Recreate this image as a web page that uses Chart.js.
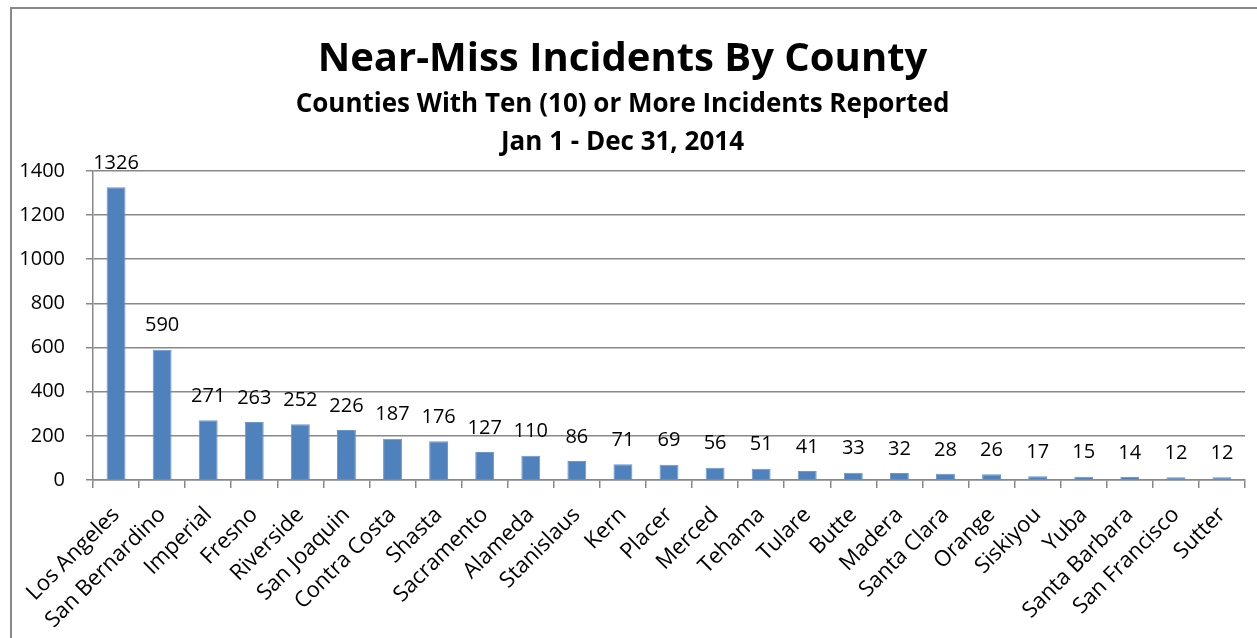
<!DOCTYPE html>
<html>
<head>
<meta charset="utf-8">
<script src="https://cdn.jsdelivr.net/npm/chart.js@4"></script>
<style>
  html,body{margin:0;padding:0;background:#fff;}
  #wrap{position:relative;width:1257px;height:638px;}
</style>
</head>
<body>
<div id="wrap"><canvas id="c"></canvas></div>
<script>
const counties = ['Los Angeles','San Bernardino','Imperial','Fresno','Riverside','San Joaquin','Contra Costa','Shasta','Sacramento','Alameda','Stanislaus','Kern','Placer','Merced','Tehama','Tulare','Butte','Madera','Santa Clara','Orange','Siskiyou','Yuba','Santa Barbara','San Francisco','Sutter'];
const incidents = [1326,590,271,263,252,226,187,176,127,110,86,71,69,56,51,41,33,32,28,26,17,15,14,12,12];
const titleText = 'Near-Miss Incidents By County';
const subtitleLines = ['Counties With Ten (10) or More Incidents Reported','Jan 1 - Dec 31, 2014'];

const FONT = '"Open Sans", Lato, sans-serif';

// value labels above each bar
const barValues = {
  id:'barValues',
  afterDatasetsDraw(chart){
    const ctx=chart.ctx;
    const meta=chart.getDatasetMeta(0);
    ctx.save();
    ctx.font='20px '+FONT;
    ctx.fillStyle='#000';
    ctx.textAlign='center';
    ctx.textBaseline='bottom';
    meta.data.forEach((bar,i)=>{
      ctx.fillText(String(incidents[i]), bar.x, bar.y-14);
    });
    ctx.restore();
  }
};

// outer chart frame
const frame = {
  id:'frame',
  beforeDraw(chart){
    const ctx=chart.ctx;
    ctx.save();
    ctx.strokeStyle='#888';
    ctx.lineWidth=2;
    ctx.strokeRect(11,8,1260,660);
    ctx.restore();
  }
};

new Chart(document.getElementById('c'),{
  type:'bar',
  data:{
    labels:counties,
    datasets:[{
      data:incidents,
      backgroundColor:'#4F81BD',
      borderColor:'#6b97cc',
      borderWidth:1,
      categoryPercentage:1,
      barPercentage:0.41
    }]
  },
  options:{
    responsive:true,
    maintainAspectRatio:false,
    animation:false,
    layout:{padding:{left:0,right:12,top:0,bottom:0}},
    plugins:{
      legend:{display:false},
      tooltip:{enabled:false},
      title:{display:true,text:titleText,color:'#000',
        font:{family:FONT,size:40,weight:'bold',lineHeight:1.2},
        padding:{top:36,bottom:2}},
      subtitle:{display:true,text:subtitleLines,color:'#000',
        font:{family:FONT,size:26,weight:'bold',lineHeight:1.46},
        padding:{top:0,bottom:9}}
    },
    scales:{
      x:{
        grid:{display:true,drawOnChartArea:false,offset:true,color:'#888',lineWidth:1.5,tickLength:8},
        border:{color:'#888',width:1.5},
        ticks:{color:'#000',font:{family:FONT,size:22},minRotation:45,maxRotation:45,autoSkip:false,padding:14},
        afterFit(s){s.height=158;}
      },
      y:{
        min:0,max:1400,
        ticks:{stepSize:200,color:'#000',font:{family:FONT,size:20},padding:21,
          callback:v=>String(v)},
        grid:{color:'#888',lineWidth:1.5,tickLength:7},
        border:{color:'#888',width:1.5},
        afterFit(s){s.width=93;}
      }
    }
  },
  plugins:[frame,barValues]
});
</script>
</body>
</html>
